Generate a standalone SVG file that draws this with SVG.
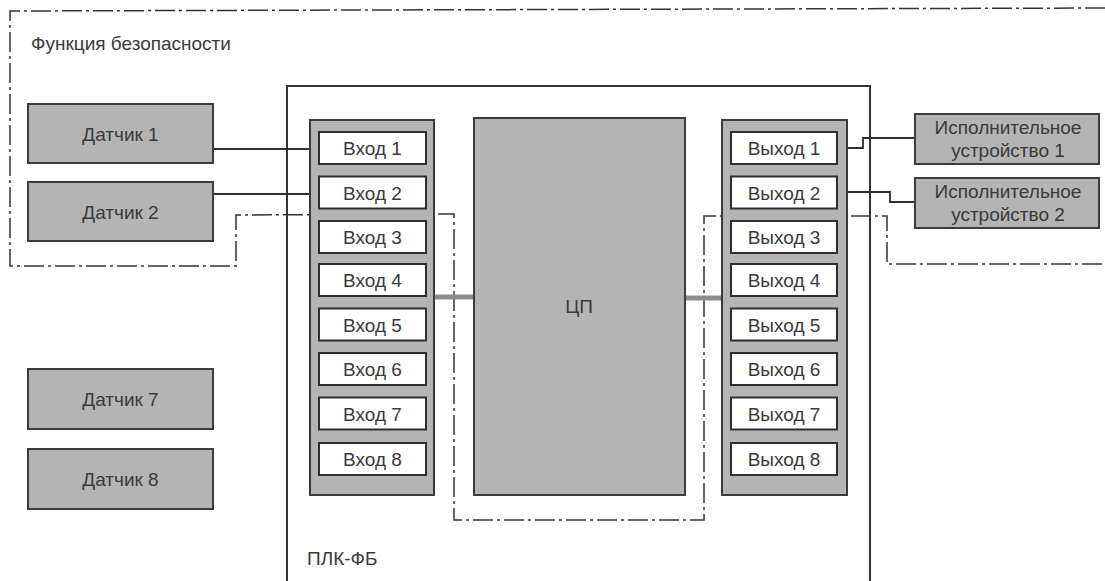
<svg xmlns="http://www.w3.org/2000/svg" width="1105" height="581" viewBox="0 0 1105 581">
<style>
text{font-family:"Liberation Sans",Arial,sans-serif;font-size:19px;fill:#3a3a3a}
.c{text-anchor:middle}
.gray{fill:#b4b4b4;stroke:#3c3c3c;stroke-width:2}
.io{fill:#ffffff;stroke:#2e2e2e;stroke-width:2}
.line{fill:none;stroke:#2e2e2e;stroke-width:1.8}
.bus{fill:none;stroke:#8c8c8c;stroke-width:5}
.dd{fill:none;stroke:#333;stroke-width:1.5;stroke-dasharray:20 4 3 4}
</style>
<rect width="1105" height="581" fill="#ffffff"/>
<g id="safety-function">
<polyline class="dd" points="1105,8 10,11 10,266 236,266 236,215 454,214 454,520 704,520 704,216 887,216 887,264 1105,264"/>
<text x="31" y="50">Функция безопасности</text>
</g>
<g id="plc">
<polyline fill="none" stroke="#333" stroke-width="2" points="287,581 287,86 870,86 870,581"/>
<text x="307" y="565">ПЛК-ФБ</text>
</g>
<g id="connectors">
<line class="line" x1="213" y1="149" x2="310" y2="149"/>
<line class="line" x1="213" y1="194" x2="310" y2="194"/>
<polyline class="line" points="847,148 863,148 863,138 915,138"/>
<polyline class="line" points="847,192 890,192 890,202 915,202"/>
<line class="bus" x1="434" y1="297" x2="474" y2="297"/>
<line class="bus" x1="685" y1="298" x2="722" y2="298"/>
</g>
<g id="sensor1"><rect class="gray" x="28" y="104" width="185" height="59"/><text class="c" x="120.5" y="141">Датчик 1</text></g>
<g id="sensor2"><rect class="gray" x="28" y="182" width="185" height="59"/><text class="c" x="120.5" y="219">Датчик 2</text></g>
<g id="sensor7"><rect class="gray" x="28" y="369" width="185" height="60"/><text class="c" x="120.5" y="406">Датчик 7</text></g>
<g id="sensor8"><rect class="gray" x="28" y="449" width="185" height="60"/><text class="c" x="120.5" y="486">Датчик 8</text></g>
<g id="actuator1"><rect class="gray" x="915" y="114" width="184" height="50"/><text class="c" x="1008" y="134">Исполнительное</text><text class="c" x="1008" y="157">устройство 1</text></g>
<g id="actuator2"><rect class="gray" x="915" y="178" width="184" height="50"/><text class="c" x="1008" y="198">Исполнительное</text><text class="c" x="1008" y="221">устройство 2</text></g>
<g id="cpu"><rect class="gray" x="474" y="118" width="211" height="377"/><text class="c" x="579" y="313">ЦП</text></g>
<g id="inputs">
<rect class="gray" x="310" y="120" width="124" height="375"/>
<g id="in1"><rect class="io" x="319" y="132" width="107" height="32"/><text class="c" x="372.5" y="155">Вход 1</text></g>
<g id="in2"><rect class="io" x="319" y="176.5" width="107" height="32"/><text class="c" x="372.5" y="199.5">Вход 2</text></g>
<g id="in3"><rect class="io" x="319" y="221" width="107" height="32"/><text class="c" x="372.5" y="244">Вход 3</text></g>
<g id="in4"><rect class="io" x="319" y="264" width="107" height="32"/><text class="c" x="372.5" y="287">Вход 4</text></g>
<g id="in5"><rect class="io" x="319" y="308.5" width="107" height="32"/><text class="c" x="372.5" y="331.5">Вход 5</text></g>
<g id="in6"><rect class="io" x="319" y="353" width="107" height="32"/><text class="c" x="372.5" y="376">Вход 6</text></g>
<g id="in7"><rect class="io" x="319" y="397.5" width="107" height="32"/><text class="c" x="372.5" y="420.5">Вход 7</text></g>
<g id="in8"><rect class="io" x="319" y="443" width="107" height="32"/><text class="c" x="372.5" y="466">Вход 8</text></g>
</g>
<g id="outputs">
<rect class="gray" x="722" y="120" width="125" height="375"/>
<g id="out1"><rect class="io" x="731" y="132" width="106" height="32"/><text class="c" x="784" y="155">Выход 1</text></g>
<g id="out2"><rect class="io" x="731" y="176.5" width="106" height="32"/><text class="c" x="784" y="199.5">Выход 2</text></g>
<g id="out3"><rect class="io" x="731" y="221" width="106" height="32"/><text class="c" x="784" y="244">Выход 3</text></g>
<g id="out4"><rect class="io" x="731" y="264" width="106" height="32"/><text class="c" x="784" y="287">Выход 4</text></g>
<g id="out5"><rect class="io" x="731" y="308.5" width="106" height="32"/><text class="c" x="784" y="331.5">Выход 5</text></g>
<g id="out6"><rect class="io" x="731" y="353" width="106" height="32"/><text class="c" x="784" y="376">Выход 6</text></g>
<g id="out7"><rect class="io" x="731" y="397.5" width="106" height="32"/><text class="c" x="784" y="420.5">Выход 7</text></g>
<g id="out8"><rect class="io" x="731" y="443" width="106" height="32"/><text class="c" x="784" y="466">Выход 8</text></g>
</g>
</svg>
